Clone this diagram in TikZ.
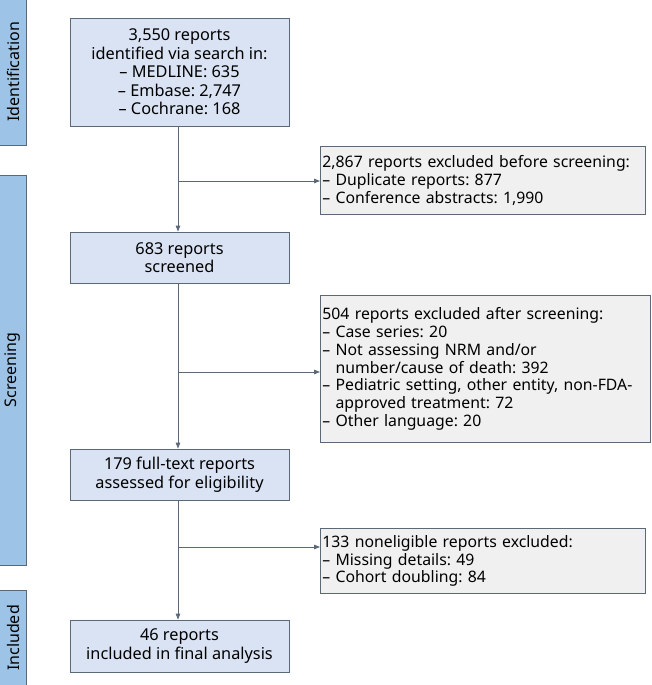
\documentclass[tikz,border=0pt]{standalone}
\usepackage{fontspec}
\setmainfont{Noto Sans}
\usetikzlibrary{arrows.meta}
\definecolor{bfill}{HTML}{DAE3F3}
\definecolor{side}{HTML}{9DC3E6}
\definecolor{gfill}{HTML}{F0F0F0}
\definecolor{edge}{HTML}{5A6878}
\begin{document}
\frenchspacing
\begin{tikzpicture}[x=1pt,y=-1pt,
 main/.style={draw=edge,fill=bfill,line width=0.8pt,minimum width=219pt,align=center,font=\fontsize{16.3}{18.5}\selectfont,inner sep=0pt},
 ex/.style={draw=edge,fill=gfill,line width=0.8pt,anchor=north west,align=left,font=\fontsize{15.8}{17.8}\selectfont,inner xsep=2pt,inner ysep=3pt},
 bar/.style={draw=edge,fill=side,line width=0.8pt},
 lab/.style={rotate=90,font=\fontsize{16}{18}\selectfont},
 arr/.style={draw=edge,line width=0.8pt,-{Triangle[length=6pt,width=4.5pt]}},
 ln/.style={draw=edge,line width=0.8pt}]
\useasboundingbox (0,0) rectangle (652,685);
\draw[bar] (-1,-1) rectangle (26,145); \node[lab] (l1) at (13,72) {Identification};
\draw[bar] (-1,175) rectangle (26,565); \node[lab] (l2) at (13,370) {Screening};
\draw[bar] (-1,590) rectangle (26,686); \node[lab] (l3) at (13,638) {Included};
\node[main,minimum height=108pt] (b1) at (179.5,72) {3,550 reports\\identified via search in:\\– MEDLINE: 635\\– Embase: 2,747\\– Cochrane: 168};
\node[main,minimum height=51pt] (b3) at (179.5,257.5) {683 reports\\screened};
\node[main,minimum height=51pt] (b5) at (179.5,474.5) {179 full-text reports\\assessed for eligibility};
\node[main,minimum height=52pt] (b7) at (179.5,646) {46 reports\\included in final analysis};
\node[ex,text width=321pt,minimum height=68pt] (b2) at (320,146) {2,867 reports excluded before screening:\\– Duplicate reports: 877\\– Conference abstracts: 1,990};
\node[ex,text width=326pt,minimum height=147pt] (b4) at (320,295) {504 reports excluded after screening:\\– Case series: 20\\– Not assessing NRM and/or\\\hphantom{– }number/cause of death: 392\\– Pediatric setting, other entity, non-FDA-\\\hphantom{– }approved treatment: 72\\– Other language: 20};
\node[ex,text width=321pt,minimum height=65pt] (b6) at (320,528) {133 noneligible reports excluded:\\– Missing details: 49\\– Cohort doubling: 84};
\coordinate (j1) at (178,181); \coordinate (j2) at (178,372); \coordinate (j3) at (178,547);
\draw[arr] (b1.south -| j1) -- (b3.north -| j1);
\draw[arr] (b3.south -| j2) -- (b5.north -| j2);
\draw[arr] (b5.south -| j3) -- (b7.north -| j3);
\draw[arr] (j1) -- (j1 -| b2.west);
\draw[arr] (j2) -- (j2 -| b4.west);
\draw[arr] (j3) -- (j3 -| b6.west);
\end{tikzpicture}
\end{document}
